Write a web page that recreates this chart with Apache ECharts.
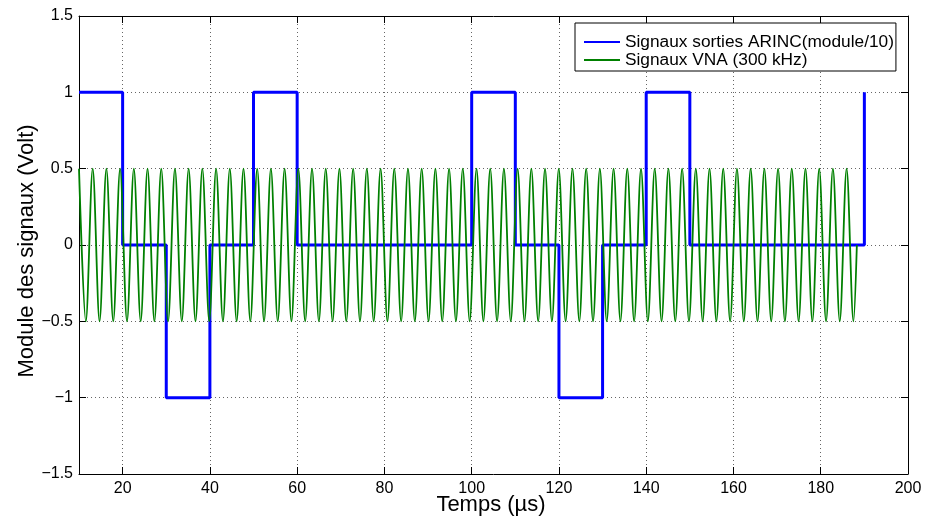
<!DOCTYPE html>
<html><head><meta charset="utf-8">
<script src="https://cdn.jsdelivr.net/npm/echarts@6/dist/echarts.min.js"></script>
<style>html,body{margin:0;padding:0;background:#fff}#c{width:925px;height:516px}</style>
</head><body><div id="c"></div>
<script>
// Tick labels
const xTicks = [20, 40, 60, 80, 100, 120, 140, 160, 180, 200];
const yTicks = [-1.5, -1, -0.5, 0, 0.5, 1, 1.5];

// Series names
const seriesNames = ['Signaux sorties ARINC(module/10)', 'Signaux VNA (300 kHz)'];

// ARINC output signal (module/10): level held from each time until the next
const arincTimes  = [10, 20, 30, 40, 50, 60, 100, 110, 120, 130, 140, 150, 190];
const arincLevels = [1, 0, -1, 0, 1, 0, 1, 0, -1, 0, 1, 0, 1];

// VNA signal: extrema (peaks/troughs), plus end point
const vnaTimes = [
  10.00, 11.57, 13.14, 14.71, 16.28, 17.85, 19.42, 21.00, 22.57, 24.14,
  25.71, 27.28, 28.85, 30.42, 31.99, 33.56, 35.13, 36.70, 38.27, 39.85,
  41.42, 42.99, 44.56, 46.13, 47.70, 49.27, 50.84, 52.41, 53.98, 55.55,
  57.12, 58.69, 60.27, 61.84, 63.41, 64.98, 66.55, 68.12, 69.69, 71.26,
  72.83, 74.40, 75.97, 77.54, 79.12, 80.69, 82.26, 83.83, 85.40, 86.97,
  88.54, 90.11, 91.68, 93.25, 94.82, 96.39, 97.96, 99.54, 101.11, 102.68,
  104.25, 105.82, 107.39, 108.96, 110.53, 112.10, 113.67, 115.24, 116.81, 118.39,
  119.96, 121.53, 123.10, 124.67, 126.24, 127.81, 129.38, 130.95, 132.52, 134.09,
  135.66, 137.23, 138.81, 140.38, 141.95, 143.52, 145.09, 146.66, 148.23, 149.80,
  151.37, 152.94, 154.51, 156.08, 157.65, 159.23, 160.80, 162.37, 163.94, 165.51,
  167.08, 168.65, 170.22, 171.79, 173.36, 174.93, 176.50, 178.08, 179.65, 181.22,
  182.79, 184.36, 185.93, 187.50, 188.28
];
const vnaValues = [
  0.5, -0.5, 0.5, -0.5, 0.5, -0.5, 0.5, -0.5, 0.5, -0.5,
  0.5, -0.5, 0.5, -0.5, 0.5, -0.5, 0.5, -0.5, 0.5, -0.5,
  0.5, -0.5, 0.5, -0.5, 0.5, -0.5, 0.5, -0.5, 0.5, -0.5,
  0.5, -0.5, 0.5, -0.5, 0.5, -0.5, 0.5, -0.5, 0.5, -0.5,
  0.5, -0.5, 0.5, -0.5, 0.5, -0.5, 0.5, -0.5, 0.5, -0.5,
  0.5, -0.5, 0.5, -0.5, 0.5, -0.5, 0.5, -0.5, 0.5, -0.5,
  0.5, -0.5, 0.5, -0.5, 0.5, -0.5, 0.5, -0.5, 0.5, -0.5,
  0.5, -0.5, 0.5, -0.5, 0.5, -0.5, 0.5, -0.5, 0.5, -0.5,
  0.5, -0.5, 0.5, -0.5, 0.5, -0.5, 0.5, -0.5, 0.5, -0.5,
  0.5, -0.5, 0.5, -0.5, 0.5, -0.5, 0.5, -0.5, 0.5, -0.5,
  0.5, -0.5, 0.5, -0.5, 0.5, -0.5, 0.5, -0.5, 0.5, -0.5,
  0.5, -0.5, 0.5, -0.5, 0
];

const FONT = 'Liberation Sans';
const minusFmt = v => String(v).replace('-', '\u2212');

const chart = echarts.init(document.getElementById('c'), null, {renderer: 'canvas'});

const tickStyle = {inside: true, length: 7, lineStyle: {color: '#000', width: 1}};
const axLine = {show: true, onZero: false, lineStyle: {color: '#000', width: 1}};
const gridLine = {show: true, lineStyle: {color: '#666', type: [1, 3], width: 1}};

chart.setOption({
  animation: false,
  backgroundColor: '#fff',
  grid: {left: 79, right: 17, top: 16, bottom: 42, containLabel: false, outerBoundsMode: 'none'},
  legend: {
    data: seriesNames,
    orient: 'vertical',
    left: 575, top: 23,
    backgroundColor: '#fff',
    borderColor: '#000', borderWidth: 1, borderRadius: 0,
    padding: [10, 2, 2, 8],
    itemGap: 0, itemWidth: 36, itemHeight: 14,
    itemStyle: {opacity: 0},
    selectedMode: false,
    textStyle: {fontSize: 17.3, color: '#000', fontFamily: FONT, lineHeight: 18}
  },
  xAxis: [
    {
      type: 'value', min: 10, max: 200, position: 'bottom',
      axisLine: axLine,
      axisTick: Object.assign({customValues: xTicks}, tickStyle),
      axisLabel: {customValues: xTicks, color: '#000', fontSize: 16, fontFamily: FONT, margin: 7},
      splitLine: gridLine,
      name: 'Temps (µs)', nameLocation: 'middle', nameGap: 20, nameMoveOverlap: false,
      nameTextStyle: {fontSize: 22, color: '#000', fontFamily: FONT, padding: [0, 5, 0, 0]}
    },
    {
      type: 'value', min: 10, max: 200, position: 'top',
      axisLine: axLine,
      axisTick: Object.assign({customValues: xTicks}, tickStyle),
      axisLabel: {show: false, customValues: xTicks},
      splitLine: {show: false}
    }
  ],
  yAxis: [
    {
      type: 'value', min: -1.5, max: 1.5, interval: 0.5, position: 'left',
      axisLine: axLine,
      axisTick: tickStyle,
      axisLabel: {color: '#000', fontSize: 16, fontFamily: FONT, margin: 6, formatter: minusFmt},
      splitLine: gridLine,
      name: 'Module des signaux (Volt)', nameLocation: 'middle', nameGap: 41, nameMoveOverlap: false,
      nameTextStyle: {fontSize: 22, color: '#000', fontFamily: FONT, padding: [0, 12, 0, 0]}
    },
    {
      type: 'value', min: -1.5, max: 1.5, interval: 0.5, position: 'right',
      axisLine: axLine,
      axisTick: tickStyle,
      axisLabel: {show: false},
      splitLine: {show: false}
    }
  ],
  series: [
    {
      name: seriesNames[0], type: 'line', step: 'end', symbol: 'none',
      data: arincTimes.map((t, i) => [t, arincLevels[i]]),
      lineStyle: {color: '#0000ff', width: 3},
      itemStyle: {color: '#0000ff'},
      z: 2
    },
    {
      name: seriesNames[1], type: 'line', smooth: 0.33, symbol: 'none',
      data: vnaTimes.map((t, i) => [t, vnaValues[i]]),
      lineStyle: {color: '#008000', width: 1.8},
      itemStyle: {color: '#008000'},
      z: 3
    }
  ]
});
</script>
</body></html>
